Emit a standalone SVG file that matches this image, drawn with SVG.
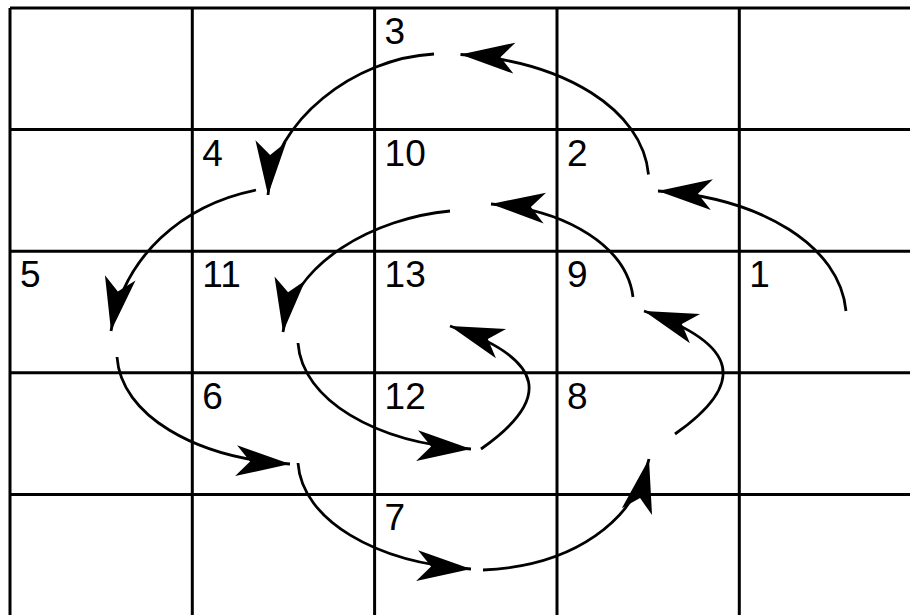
<svg xmlns="http://www.w3.org/2000/svg" width="910" height="615" viewBox="0 0 910 615">
<style>
.grid{stroke:#000;stroke-width:3;fill:none}
.lbl{font-family:"Liberation Sans",Arial,sans-serif;font-size:37px;fill:#000}
.c{stroke:#000;stroke-width:2.8;fill:none;marker-end:url(#ah)}
</style>
<defs>
<marker id="ah" markerUnits="userSpaceOnUse" viewBox="-56 -17 58 34" markerWidth="58" markerHeight="34" refX="0" refY="0" orient="auto">
<path d="M0,0 L-54,-15.5 L-40,0 L-54,15.5 Z" fill="#000"/>
</marker>
</defs>
<rect width="910" height="615" fill="#fff"/>
<g id="grid" class="grid">
<path d="M10,8 H910 M10,129.6 H910 M10,251.2 H910 M10,372.8 H910 M10,494.4 H910"/>
<path d="M10,8 V615 M192.3,8 V615 M374.6,8 V615 M557,8 V615 M739.3,8 V615"/>
</g>
<g id="n3"><text class="lbl" x="384.6" y="43.5">3</text></g>
<g id="n4"><text class="lbl" x="202.3" y="165.5">4</text></g>
<g id="n10"><text class="lbl" x="384.6" y="165.5">10</text></g>
<g id="n2"><text class="lbl" x="567" y="165.5">2</text></g>
<g id="n5"><text class="lbl" x="20" y="287">5</text></g>
<g id="n11"><text class="lbl" x="202.3" y="287">11</text></g>
<g id="n13"><text class="lbl" x="384.6" y="287">13</text></g>
<g id="n9"><text class="lbl" x="567" y="287">9</text></g>
<g id="n1"><text class="lbl" x="749.3" y="287">1</text></g>
<g id="n6"><text class="lbl" x="202.3" y="408.5">6</text></g>
<g id="n12"><text class="lbl" x="384.6" y="408.5">12</text></g>
<g id="n8"><text class="lbl" x="567" y="408.5">8</text></g>
<g id="n7"><text class="lbl" x="384.6" y="530">7</text></g>
<g id="connectors">
<path class="c" d="M846,311 C840,246 762,198 658,191"/>
<path class="c" d="M648.5,174.5 C642.5,109.5 564.5,61.5 460.5,54.5"/>
<path class="c" d="M434,54 C355,58 272,121 268,195"/>
<path class="c" d="M256,190 C182,205 124,256 111,331"/>
<path class="c" d="M117,357 C121,415 194.5,458 290,464"/>
<path class="c" d="M298,463 C302,520 375.5,563 471,569"/>
<path class="c" d="M483,570 C575,566 635,520 649,459"/>
<path class="c" d="M675,434 C745,385 742,345 644,311"/>
<path class="c" d="M633,297 C627,248 569,210 491,204"/>
<path class="c" d="M450,211 C375,218 292,262 283,332"/>
<path class="c" d="M298,343 C302,400 375.5,443 471,449"/>
<path class="c" d="M481,449 C551,400 548,360 450,326"/>
</g>
</svg>
